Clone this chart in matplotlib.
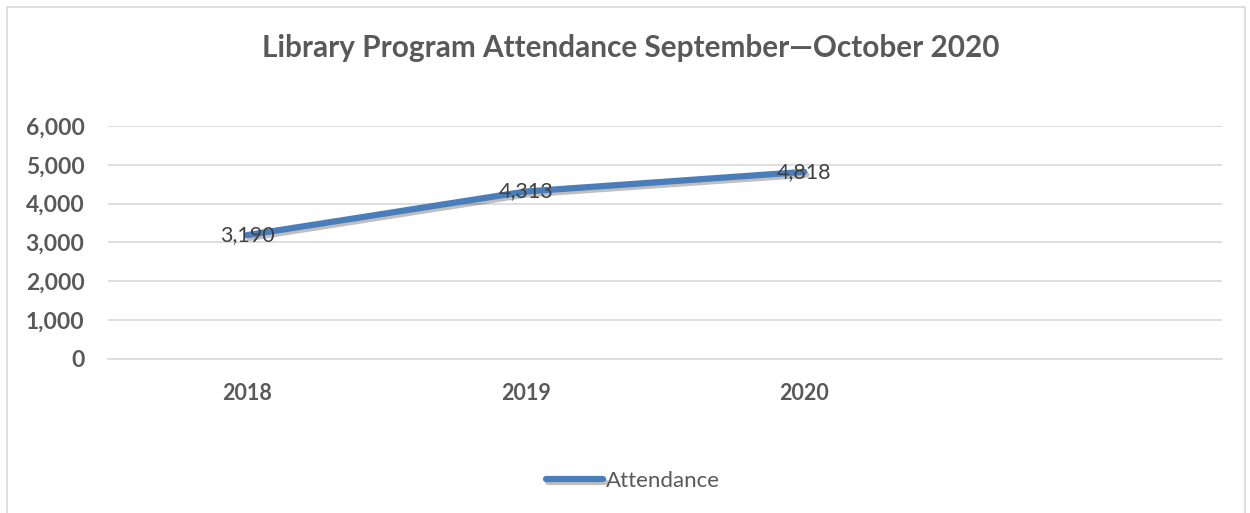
import matplotlib.pyplot as plt
import matplotlib.patheffects as pe
from matplotlib.ticker import FuncFormatter

# Data
years = ['2018', '2019', '2020']
attendance = [3190, 4313, 4818]
y_ticks = [0, 1000, 2000, 3000, 4000, 5000, 6000]

text_color = '#595959'
line_color = '#4a7ebb'
plt.rcParams['font.family'] = ['Lato', 'DejaVu Sans']

fig = plt.figure(figsize=(12.5, 5.13), dpi=100)
ax = fig.add_axes([0.0864, 0.3002, 0.8912, 0.4542])

x = list(range(len(years)))
ax.plot(x, attendance, color=line_color, lw=4.5, solid_capstyle='round',
        path_effects=[pe.SimpleLineShadow(offset=(1.5, -2), shadow_color='k', alpha=0.25),
                      pe.Normal()])

for xi, v in zip(x, attendance):
    ax.text(xi, v, f'{v:,}', ha='center', va='center', fontsize=15.5, color='#404040')

ax.set_xlim(-0.5, 3.5)
ax.set_ylim(0, 6000)
ax.set_xticks(x)
ax.set_xticklabels(years)
ax.set_yticks(y_ticks)
ax.yaxis.set_major_formatter(FuncFormatter(lambda v, p: f'{int(v):,}'))
ax.grid(axis='y', color='#d9d9d9', lw=1.2)
ax.set_axisbelow(True)
for s in ['top', 'right', 'left']:
    ax.spines[s].set_visible(False)
ax.spines['bottom'].set_color('#d9d9d9')
ax.spines['bottom'].set_linewidth(1.2)
ax.tick_params(length=0, colors=text_color)
ax.tick_params(axis='x', pad=17, labelsize=15.5)
ax.tick_params(axis='y', pad=17, labelsize=16.5)
for lab in ax.get_xticklabels() + ax.get_yticklabels():
    lab.set_fontweight('bold')

fig.text(0.505, 0.906, 'Library Program Attendance September\u2014October 2020',
         ha='center', va='center', fontsize=21.4, fontweight='bold', color=text_color)

leg = fig.legend(['Attendance'], loc='center', bbox_to_anchor=(0.506, 0.0624),
                 frameon=False, fontsize=16, handlelength=2.6, handletextpad=0.1)
for t in leg.get_texts():
    t.set_color(text_color)

# chart border
fig.add_artist(plt.Rectangle((0.0056, -0.02), 0.99, 1.006, transform=fig.transFigure,
                             fill=False, edgecolor='#d9d9d9', lw=1.2))

fig.savefig('out.png', dpi=100)
